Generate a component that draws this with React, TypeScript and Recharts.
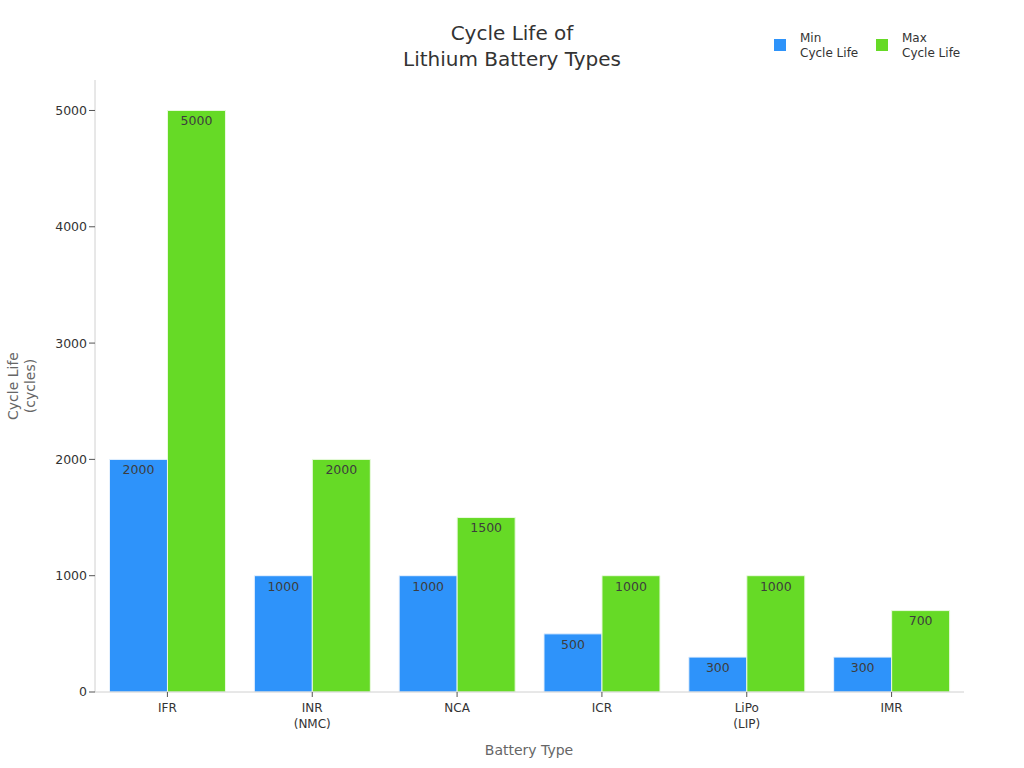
import { Bar, BarChart, LabelList, Legend, XAxis, YAxis } from "recharts";

const categories = ["IFR", "INR\n(NMC)", "NCA", "ICR", "LiPo\n(LIP)", "IMR"];
const minCycles = [2000, 1000, 1000, 500, 300, 300];
const maxCycles = [5000, 2000, 1500, 1000, 1000, 700];
const yTicks = [0, 1000, 2000, 3000, 4000, 5000];
const titleLines = ["Cycle Life of", "Lithium Battery Types"];
const yLabelLines = ["Cycle Life", "(cycles)"];

const BLUE = "#2E93FA";
const GREEN = "#66DA26";
const FONT = "'DejaVu Sans', sans-serif";

const data = categories.map((name, i) => ({
  name,
  min: minCycles[i],
  max: maxCycles[i],
}));

function CategoryTick({ x, y, payload }: any) {
  return (
    <g>
      <line x1={x} x2={x} y1={y - 8} y2={y - 3} stroke="#555" />
      <text x={x} y={y + 12} textAnchor="middle" fontSize={12} fill="#333" fontFamily={FONT}>
        {String(payload.value)
          .split("\n")
          .map((line, i) => (
            <tspan key={line} x={x} dy={i === 0 ? 0 : 16}>
              {line}
            </tspan>
          ))}
      </text>
    </g>
  );
}

// zero height so the legend takes no room away from the plot
function LegendBlock() {
  const items = [
    { color: BLUE, lines: ["Min", "Cycle Life"], left: 774 },
    { color: GREEN, lines: ["Max", "Cycle Life"], left: 876 },
  ];
  return (
    <div style={{ position: "relative", width: 1024, height: 0, fontFamily: FONT }}>
      {items.map((it) => (
        <div key={it.left}>
          <div
            style={{
              position: "absolute",
              left: it.left,
              top: 39,
              width: 12,
              height: 12,
              background: it.color,
            }}
          />
          <div
            style={{
              position: "absolute",
              left: it.left + 26,
              top: 30.5,
              fontSize: 12,
              lineHeight: "15px",
              color: "#333",
              whiteSpace: "nowrap",
            }}
          >
            {it.lines[0]}
            <br />
            {it.lines[1]}
          </div>
        </div>
      ))}
    </div>
  );
}

export default function App() {
  return (
    <div style={{ position: "absolute", left: 0, top: 0, width: 1024, height: 768 }}>
      <BarChart
        width={1024}
        height={768}
        data={data}
        margin={{ top: 80, right: 60, bottom: 0, left: 0 }}
        barCategoryGap="10%"
        barGap={0}
      >
        <text textAnchor="middle" fontSize={20} fill="#333" fontFamily={FONT}>
          {titleLines.map((line, i) => (
            <tspan key={line} x={512} y={40 + i * 26}>
              {line}
            </tspan>
          ))}
        </text>
        <text textAnchor="middle" fontSize={14} fill="#666" fontFamily={FONT} transform="rotate(-90 0 0)">
          {yLabelLines.map((line, i) => (
            <tspan key={line} x={-386} y={18 + i * 17}>
              {line}
            </tspan>
          ))}
        </text>
        <text x={529} y={755} textAnchor="middle" fontSize={14} fill="#666" fontFamily={FONT}>
          Battery Type
        </text>
        <XAxis
          dataKey="name"
          height={76}
          interval={0}
          tick={<CategoryTick />}
          tickLine={false}
          axisLine={{ stroke: "#d0d0d0" }}
        />
        <YAxis
          width={95}
          domain={[0, 5262]}
          ticks={yTicks}
          allowDataOverflow
          tick={{ fontSize: 12.5, fill: "#333", fontFamily: FONT }}
          tickSize={6}
          tickLine={{ stroke: "#555" }}
          axisLine={{ stroke: "#d0d0d0" }}
        />
        <Legend
          content={<LegendBlock />}
          wrapperStyle={{ left: 0, top: 0, width: 1024, height: 0 }}
        />
        <Bar dataKey="min" fill={BLUE} stroke="#e8f2fe" strokeWidth={1} isAnimationActive={false}>
          <LabelList dataKey="min" position="insideTop" offset={6} fontSize={12.5} fill="#3d3d3d" fontFamily={FONT} />
        </Bar>
        <Bar dataKey="max" fill={GREEN} stroke="#eafae0" strokeWidth={1} isAnimationActive={false}>
          <LabelList dataKey="max" position="insideTop" offset={6} fontSize={12.5} fill="#3d3d3d" fontFamily={FONT} />
        </Bar>
      </BarChart>
    </div>
  );
}
